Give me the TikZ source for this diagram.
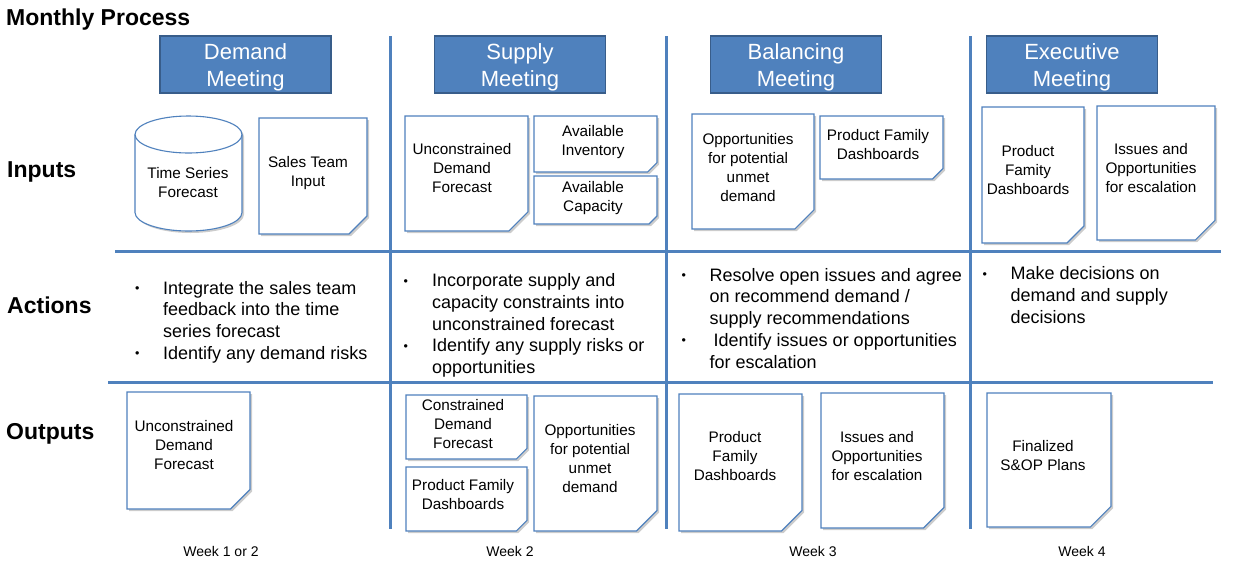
\documentclass[tikz,border=0pt]{standalone}
\usepackage{fontspec}
\setmainfont{Liberation Sans}
\usetikzlibrary{shadows,calc}
\definecolor{acc}{RGB}{79,129,189}
\definecolor{accdark}{RGB}{56,93,138}
\newcommand\bul{\raisebox{1.5pt}{\fontsize{12.5}{12.5}\selectfont\textbullet}}
\newcommand\hstrut{\rule{0pt}{22pt}}
\tikzset{
 docline/.style={draw=acc, line width=1.1pt, fill=white, line join=miter,
   drop shadow={shadow xshift=2pt, shadow yshift=-2pt, opacity=0.2, fill=black}},
 doctext/.style={align=center, font=\fontsize{15.3}{19}\selectfont, inner sep=0pt},
 hdr/.style={draw=accdark, line width=1.5pt, fill=acc, text=white, align=center,
   font=\fontsize{22}{27}\selectfont, inner sep=0pt, minimum width=171, minimum height=57},
 gridline/.style={draw=acc, line width=3pt},
 gridshadow/.style={draw=black!18, line width=3pt},
 rowlab/.style={anchor=base west, font=\fontsize{23}{27}\selectfont\bfseries, inner sep=0pt},
 weeklab/.style={anchor=base, font=\fontsize{14}{17}\selectfont, inner sep=0pt},
 acttext/.style={anchor=base west, inner sep=0pt, font=\fontsize{18}{21.8}\selectfont},
}
% name, x1, y1, x2, y2, text x, text y, text
\newcommand\docnode[8]{%
 \pgfmathsetmacro\chf{min(#4-#2,#5-#3)/6}%
 \draw[docline] (#2,#3) -- (#4,#3) -- (#4,#5-\chf) -- (#4-\chf,#5) -- (#2,#5) -- cycle;
 \node[doctext] (#1) at (#6,#7) {#8};
}
\begin{document}
\begin{tikzpicture}[x=1pt,y=-1pt]
\fill[white] (0,0) rectangle (1234,566);
\useasboundingbox (0,0) rectangle (1234,566);

% title
\node[rowlab] (title) at (6,25) {Monthly Process};

% grid coordinates
\coordinate (v1t) at (390,36);  \coordinate (v1b) at (390,529);
\coordinate (v2t) at (666,36);  \coordinate (v2b) at (666,529);
\coordinate (v3t) at (970,36);  \coordinate (v3b) at (970,529);
\coordinate (h1l) at (115,251.5); \coordinate (h1r) at (1221,251.5);
\coordinate (h2l) at (108,382);   \coordinate (h2r) at (1213,382);

\begin{scope}[xshift=1.5pt, yshift=-1.5pt]
 \draw[gridshadow] (v1t) -- (v1b);
 \draw[gridshadow] (v2t) -- (v2b);
 \draw[gridshadow] (v3t) -- (v3b);
 \draw[gridshadow] (h1l) -- (h1r);
 \draw[gridshadow] (h2l) -- (h2r);
\end{scope}
\draw[gridline] (v1t) -- (v1b);
\draw[gridline] (v2t) -- (v2b);
\draw[gridline] (v3t) -- (v3b);
\draw[gridline] (h1l) -- (h1r);
\draw[gridline] (h2l) -- (h2r);

% headers
\node[hdr] (hD) at (245.5,64.5) {\hstrut Demand\\Meeting};
\node[hdr] (hS) at (520,64.5) {\hstrut Supply\\Meeting};
\node[hdr] (hB) at (796,64.5) {\hstrut Balancing\\Meeting};
\node[hdr] (hE) at (1072,64.5) {\hstrut Executive\\Meeting};

% row labels
\node[rowlab] (rIn) at (7,177.5) {Inputs};
\node[rowlab] (rAct) at (7,313) {Actions};
\node[rowlab] (rOut) at (6,439) {Outputs};

% cylinder
\draw[draw=acc, line width=1.1pt, fill=white,
   drop shadow={shadow xshift=2pt, shadow yshift=-2pt, opacity=0.2, fill=black}]
  (135,134.5) -- (135,212.5)
  arc[start angle=180, end angle=0, x radius=53.5, y radius=18.5]
  -- (242,134.5)
  arc[start angle=0, end angle=-180, x radius=53.5, y radius=18.5] -- cycle;
\draw[draw=acc, line width=1.1pt] (135,134.5)
  arc[start angle=180, end angle=0, x radius=53.5, y radius=18.5];
\node[doctext] (cyl) at (188,183) {Time Series\\Forecast};

% inputs
\docnode{inSales}{259}{118}{367}{234}{308}{173}{Sales Team\\Input}
\docnode{inUDF}{405}{116}{528}{231}{462}{168.5}{Unconstrained\\Demand\\Forecast}
\docnode{inInv}{534}{116}{657}{172}{593}{142.5}{Available\\Inventory}
\docnode{inCap}{534}{176}{657}{224}{593}{198}{Available\\Capacity}
\docnode{inOpp}{692}{114}{814}{229}{748}{167.5}{Opportunities\\for potential\\unmet\\demand}
\docnode{inPFD}{820}{116}{943}{179}{878}{145}{Product Family\\Dashboards}
\docnode{inEPFD}{982}{107}{1084}{243}{1028}{170.5}{Product\\Famity\\Dashboards}
\docnode{inEIss}{1097}{106}{1215}{240}{1151}{168.5}{Issues and\\Opportunities\\for escalation}

% outputs
\docnode{outUDF}{127}{392}{250}{509}{184}{445.5}{Unconstrained\\Demand\\Forecast}
\docnode{outCDF}{406}{395}{527}{459}{463}{424.5}{Constrained\\Demand\\Forecast}
\docnode{outPFD}{406}{467}{527}{531}{463}{495}{Product Family\\Dashboards}
\docnode{outOpp}{534}{396}{657}{531}{590}{459}{Opportunities\\for potential\\unmet\\demand}
\docnode{outBPFD}{679}{394}{802}{531}{735}{456.5}{Product\\Family\\Dashboards}
\docnode{outBIss}{821}{393}{944}{528}{877}{456.5}{Issues and\\Opportunities\\for escalation}
\docnode{outFin}{987}{393}{1111}{527}{1043}{455.5}{Finalized\\S\&OP Plans}

% actions
\node[acttext] (actD) at (135,294) {\begin{tabular}[t]{@{}p{28pt}@{}l@{}}
\bul & Integrate the sales team\\
 & feedback into the time\\
 & series forecast\\
\bul & Identify any demand risks
\end{tabular}};
\node[acttext] (actS) at (403.5,286.5) {\begin{tabular}[t]{@{}p{28.5pt}@{}l@{}}
\bul & Incorporate supply and\\
 & capacity constraints into\\
 & unconstrained forecast\\
\bul & Identify any supply risks or\\
 & opportunities
\end{tabular}};
\node[acttext] (actB) at (681.5,281) {\begin{tabular}[t]{@{}p{28pt}@{}l@{}}
\bul & Resolve open issues and agree\\
 & on recommend demand /\\
 & supply recommendations\\
\bul & \hspace{4pt}Identify issues or opportunities\\
 & for escalation
\end{tabular}};
\node[acttext] (actE) at (982.5,279.5) {\begin{tabular}[t]{@{}p{28pt}@{}l@{}}
\bul & Make decisions on\\
 & demand and supply\\
 & decisions
\end{tabular}};

% weeks
\node[weeklab] (w1) at (221,556) {Week 1 or 2};
\node[weeklab] (w2) at (510,556) {Week 2};
\node[weeklab] (w3) at (813,556) {Week 3};
\node[weeklab] (w4) at (1082,556) {Week 4};
\end{tikzpicture}
\end{document}
